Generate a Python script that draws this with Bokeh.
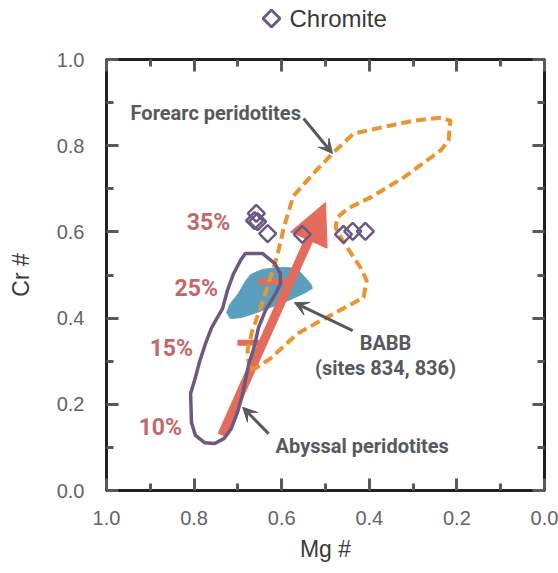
import numpy as np
from bokeh.plotting import figure
from bokeh.layouts import column
from bokeh.models import (Range1d, FixedTicker, LinearAxis, PrintfTickFormatter,
                          CustomJSTickFormatter, Arrow, VeeHead)
from bokeh.core.properties import value
from bokeh.embed import file_html
from bokeh.resources import INLINE

# ---------------- data (Mg #, Cr #) ----------------
chromite_mg = [0.658, 0.662, 0.655, 0.632, 0.553, 0.459, 0.438, 0.409]
chromite_cr = [0.643, 0.626, 0.624, 0.596, 0.594, 0.594, 0.601, 0.601]

forearc_mg = [0.674, 0.678, 0.667, 0.648, 0.630, 0.610, 0.594, 0.573, 0.527, 0.484,
              0.436, 0.374, 0.299, 0.237, 0.215, 0.219, 0.237, 0.322, 0.397, 0.450,
              0.473, 0.477, 0.461, 0.420, 0.406, 0.413, 0.454, 0.511, 0.564, 0.626, 0.660]
forearc_cr = [0.283, 0.325, 0.371, 0.425, 0.480, 0.545, 0.615, 0.684, 0.736, 0.782,
              0.828, 0.842, 0.858, 0.865, 0.858, 0.812, 0.789, 0.726, 0.680, 0.654,
              0.633, 0.610, 0.580, 0.517, 0.487, 0.448, 0.425, 0.394, 0.364, 0.306, 0.283]

abyssal_mg = [0.683, 0.644, 0.616, 0.603, 0.603, 0.614, 0.637, 0.653, 0.662, 0.676,
              0.689, 0.701, 0.715, 0.731, 0.753, 0.776, 0.797, 0.806, 0.808, 0.799,
              0.788, 0.774, 0.760, 0.747, 0.735, 0.724, 0.710, 0.694]
abyssal_cr = [0.550, 0.550, 0.527, 0.503, 0.480, 0.457, 0.418, 0.378, 0.336, 0.290,
              0.225, 0.181, 0.144, 0.121, 0.109, 0.111, 0.128, 0.158, 0.225, 0.255,
              0.297, 0.341, 0.378, 0.401, 0.422, 0.464, 0.503, 0.534]

babb_mg = [0.671, 0.644, 0.610, 0.580, 0.557, 0.534, 0.530, 0.550, 0.580, 0.614,
           0.644, 0.671, 0.694, 0.717, 0.726, 0.717, 0.699, 0.683]
babb_cr = [0.501, 0.513, 0.517, 0.517, 0.506, 0.480, 0.469, 0.457, 0.443, 0.429,
           0.418, 0.408, 0.401, 0.399, 0.413, 0.434, 0.457, 0.485]

# melting trend arrow (start, tip) and melt-fraction marks
trend_mg = [0.737, 0.500]
trend_cr = [0.128, 0.668]
melt_labels = ["35%", "25%", "15%", "10%"]
melt_label_mg = [0.767, 0.795, 0.852, 0.877]
melt_label_cr = [0.622, 0.469, 0.329, 0.146]
mark_mg0 = [0.655, 0.701]
mark_mg1 = [0.584, 0.642]
mark_cr = [0.485, 0.343]

# annotation texts and pointer arrows
note_text = ["Forearc peridotites", "BABB", "(sites 834, 836)", "Abyssal peridotites"]
note_mg = [0.945, 0.363, 0.363, 0.614]
note_cr = [0.875, 0.343, 0.285, 0.104]
note_align = ["left", "center", "center", "left"]
ptr_mg0 = [0.550, 0.438, 0.630]
ptr_cr0 = [0.863, 0.371, 0.132]
ptr_mg1 = [0.484, 0.571, 0.689]
ptr_cr1 = [0.782, 0.436, 0.193]

major_ticks = [0.0, 0.2, 0.4, 0.6, 0.8, 1.0]
minor_ticks = [0.1, 0.3, 0.5, 0.7, 0.9]

legend_label = ["Chromite"]

# ---------------- layout sizes ----------------
W = 558
HEAD_H = 40
L, R, T, B = 106, 14, 19, 83
H = 573 - HEAD_H

PURPLE_MARK = "#6a5a82"

# ---------------- legend header (frame aligned with main frame; units = page px) ----------------
head = figure(width=W, height=HEAD_H, output_backend="svg", toolbar_location=None,
              x_range=Range1d(L, W - R), y_range=Range1d(0, HEAD_H),
              x_axis_type=None, y_axis_type=None, min_border=0,
              min_border_left=L, min_border_right=R, min_border_top=0, min_border_bottom=0)
head.grid.visible = False
head.outline_line_color = None
head.background_fill_color = "white"
head.border_fill_color = "white"
head.title.visible = False
lx, ly = 271, HEAD_H - 18
head.scatter([lx], [ly], marker="square", angle=np.pi / 4, size=12,
             fill_color=None, line_color=PURPLE_MARK, line_width=3)
head.text(x=[lx + 18], y=[ly], text=legend_label, text_font=value("Liberation Sans"),
          text_font_size="24px", text_color="#3a3a3a", text_align="left",
          text_baseline="middle")

# ---------------- main figure ----------------
p = figure(width=W, height=H, output_backend="svg", toolbar_location=None,
           x_range=Range1d(1.0, 0.0), y_range=Range1d(0.0, 1.0),
           x_axis_label="Mg #", y_axis_label="Cr #",
           min_border_left=L, min_border_right=R, min_border_top=T, min_border_bottom=B)
p.grid.visible = False
p.outline_line_color = "#231f20"
p.outline_line_width = 3
p.outline_line_alpha = 1.0
p.background_fill_color = "white"
p.border_fill_color = "white"

TICK_COLOR = "#58595b"


def style_axis(ax, labelled):
    ax.ticker = FixedTicker(ticks=major_ticks, minor_ticks=minor_ticks)
    ax.axis_line_color = None
    ax.major_tick_in = 12
    ax.major_tick_out = 0
    ax.minor_tick_in = 7
    ax.minor_tick_out = 0
    ax.major_tick_line_color = TICK_COLOR
    ax.minor_tick_line_color = TICK_COLOR
    ax.major_tick_line_width = 3
    ax.minor_tick_line_width = 3
    if labelled:
        ax.formatter = PrintfTickFormatter(format="%.1f")
        ax.major_label_text_font = "Liberation Sans"
        ax.major_label_text_font_size = "20px"
        ax.major_label_text_color = "#636466"
        ax.axis_label_text_font = "Liberation Sans"
        ax.axis_label_text_font_size = "23px"
        ax.axis_label_text_font_style = "normal"
        ax.axis_label_text_color = "#3a3a3a"
    else:
        ax.formatter = CustomJSTickFormatter(code="return ''")
        ax.major_label_standoff = 0
        ax.major_label_text_font_size = "0px"


style_axis(p.xaxis[0], True)
style_axis(p.yaxis[0], True)
p.xaxis[0].major_label_standoff = 20
p.xaxis[0].axis_label_standoff = 8
p.yaxis[0].major_label_standoff = 22
p.yaxis[0].axis_label_standoff = 20

top_ax = LinearAxis()
right_ax = LinearAxis()
style_axis(top_ax, False)
style_axis(right_ax, False)
p.add_layout(top_ax, "above")
p.add_layout(right_ax, "right")

SALMON = "#e46c5d"
PCT = "#c4676a"

# BABB field
p.patch(babb_mg, babb_cr, fill_color="#5b9fbf", line_color="#5b9fbf", line_width=1)

# melting trend arrow (shaft + head derived from start/tip in frame pixels)
SX, SY = float(W - L - R), float(H - T - B)
s = np.array([-trend_mg[0] * SX, trend_cr[0] * SY])
t = np.array([-trend_mg[1] * SX, trend_cr[1] * SY])
u = (t - s) / np.linalg.norm(t - s)
nrm = np.array([-u[1], u[0]])
head_len, head_w = 41.0, 40.0
base = t - u * head_len
c1 = base + nrm * head_w / 2
c2 = base - nrm * head_w / 2
shaft_end = base + u * 3
p.line([trend_mg[0], -shaft_end[0] / SX], [trend_cr[0], shaft_end[1] / SY],
       line_color=SALMON, line_width=9, line_cap="butt")
p.segment(x0=mark_mg0, y0=mark_cr, x1=mark_mg1, y1=mark_cr,
          line_color=SALMON, line_width=6)
p.patch([-t[0] / SX, -c1[0] / SX, -c2[0] / SX], [t[1] / SY, c1[1] / SY, c2[1] / SY],
        fill_color=SALMON, line_color=SALMON, line_width=1)

# forearc peridotite field (dashed)
p.patch(forearc_mg, forearc_cr, fill_alpha=0, line_color="#eb9530", line_width=4,
        line_dash="10 5", line_join="round")

# abyssal peridotite field
p.patch(abyssal_mg, abyssal_cr, fill_alpha=0, line_color="#6a5a7e", line_width=3.5,
        line_join="round")

# chromite
p.scatter(chromite_mg, chromite_cr, marker="square", angle=np.pi / 4, size=12,
          fill_color=None, line_color=PURPLE_MARK, line_width=2.5)

# pointer arrows
for i in range(len(ptr_mg0)):
    p.add_layout(Arrow(x_start=ptr_mg0[i], y_start=ptr_cr0[i], x_end=ptr_mg1[i], y_end=ptr_cr1[i],
                       line_color="#58595b", line_width=3,
                       end=VeeHead(size=14, fill_color="#58595b", line_color="#58595b", line_width=1)))

# texts
p.text(x=melt_label_mg, y=melt_label_cr, text=melt_labels, text_font=value("Roboto"),
       text_font_style="bold", text_font_size="23px", text_color=PCT,
       text_align="center", text_baseline="alphabetic")
p.text(x=note_mg, y=note_cr, text=note_text, text_font=value("Roboto"),
       text_font_style="bold", text_font_size="20px", text_color="#58595b",
       text_align=note_align, text_baseline="alphabetic")

layout = column(head, p, spacing=0)
open("out.html", "w").write(file_html(layout, INLINE))
